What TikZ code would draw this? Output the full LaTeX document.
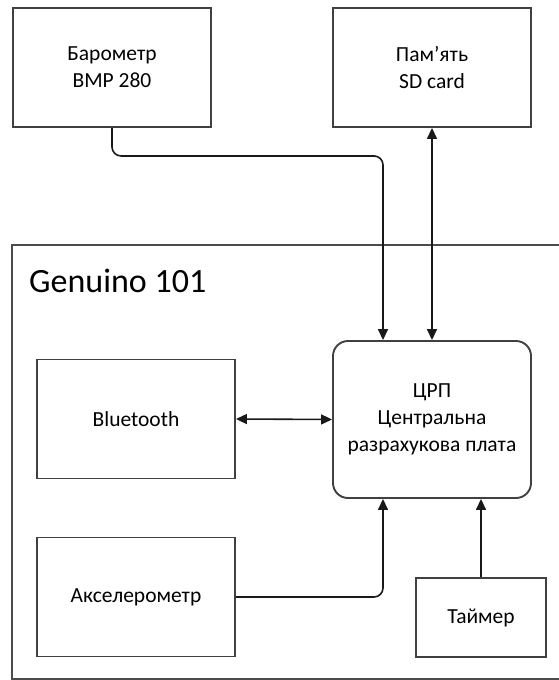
\documentclass[tikz,border=0pt]{standalone}
\usepackage{fontspec}
\setmainfont{Carlito}
\usetikzlibrary{arrows.meta}
\tikzset{
  box/.style={draw=black!75, line width=1.9pt, fill=white, minimum width=198pt, minimum height=119pt, align=center, inner sep=0pt, font=\fontsize{21.5}{26.7}\selectfont},
  conn/.style={draw=black!90, line width=1.6pt},
  tip/.style={-{Triangle[length=11pt,width=10pt]}},
  dtip/.style={{Triangle[length=11pt,width=10pt]}-{Triangle[length=11pt,width=10pt]}},
}
\begin{document}
\begin{tikzpicture}[x=1pt,y=-1pt]
\useasboundingbox (0,0) rectangle (558,680);
% outer Genuino box
\draw[draw=black!70, line width=1.2pt] (12,245) rectangle (600,679);
\node[anchor=base west, inner sep=0pt, font=\fontsize{34}{40}\selectfont] (gen) at (29,292) {Genuino 101};
% nodes
\node[box] (baro) at (112,67.5) {Барометр\\ВМР 280};
\node[box] (mem) at (432,67.5) {Пам’ять\\ SD card};
\node[box, rounded corners=15pt, minimum height=157pt] (cpu) at (432,419.5) {ЦРП\\Центральна\\разрахукова плата};
\node[box] (bt) at (136,419) {Bluetooth};
\node[box] (acc) at (136,597) {Акселерометр};
\node[box, minimum width=130pt, minimum height=79pt] (tim) at (481,617.5) {Таймер};
% connectors
\draw[conn, tip, rounded corners=9pt] (baro.south) -- ++(0,28) -| ([xshift=-49pt]cpu.north);
\draw[conn, dtip] (mem.south) -- (cpu.north);
\draw[conn, dtip] (bt.east) -- (cpu.west);
\draw[conn, tip, rounded corners=9pt] (acc.east) -| ([xshift=-49pt]cpu.south);
\draw[conn, tip] (tim.north) -- (cpu.south -| tim.north);
\end{tikzpicture}
\end{document}
